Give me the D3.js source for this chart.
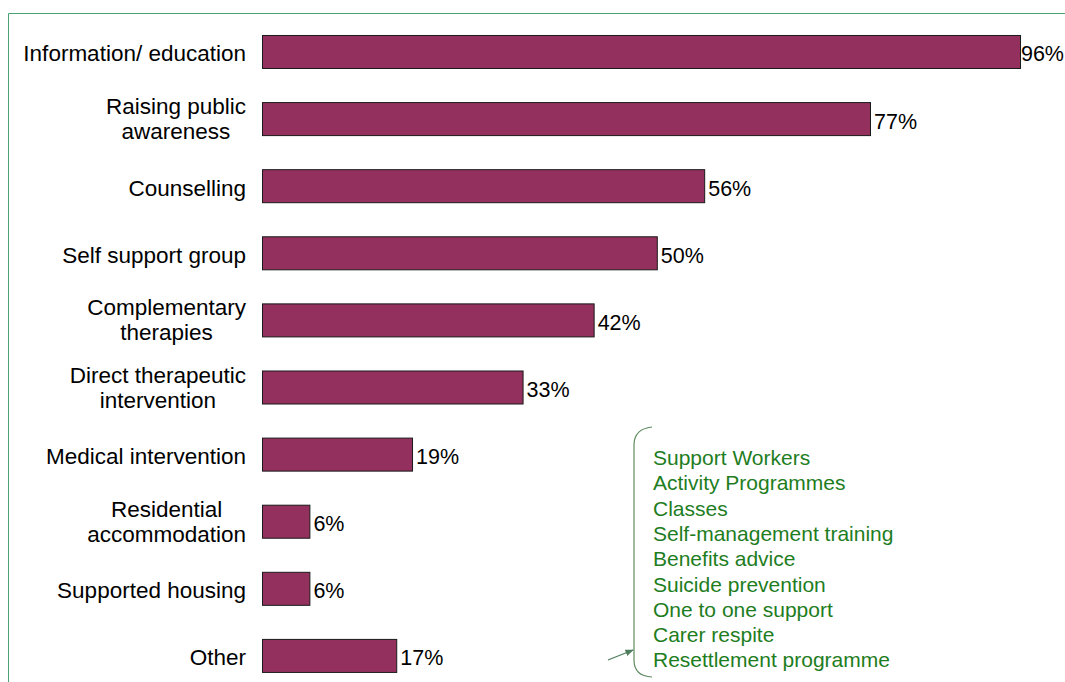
<!DOCTYPE html>
<html>
<head>
<meta charset="utf-8">
<script src="https://cdn.jsdelivr.net/npm/d3@7"></script>
<style>
  html, body { margin: 0; padding: 0; background: #fff; }
  svg { display: block; font-family: "Liberation Sans", Arial, sans-serif; }
</style>
</head>
<body>
<svg id="chart" width="1065" height="682"></svg>
<script>
// Services offered (share of organisations, %)
const categories = [
  ["Information/ education"],
  ["Raising public", "awareness"],
  ["Counselling"],
  ["Self support group"],
  ["Complementary", "therapies"],
  ["Direct therapeutic", "intervention"],
  ["Medical intervention"],
  ["Residential", "accommodation"],
  ["Supported housing"],
  ["Other"]
];
const values = [96, 77, 56, 50, 42, 33, 19, 6, 6, 17];
const otherServices = [
  "Support Workers",
  "Activity Programmes",
  "Classes",
  "Self-management training",
  "Benefits advice",
  "Suicide prevention",
  "One to one support",
  "Carer respite",
  "Resettlement programme"
];

const W = 1065;
const svg = d3.select("#chart");
const keys = categories.map(c => c.join(" "));

const x = d3.scaleLinear().domain([0, 100]).range([262, 262 + 789.6]);
const y = d3.scaleBand().domain(keys).range([18.2, 688.7])
  .paddingInner(0.508).paddingOuter(0.25);

// Frame lines
svg.append("path")
  .attr("d", "M8.5,682 L8.5,13.5 L1065,13.5")
  .attr("fill", "none")
  .attr("stroke", "#4aa375")
  .attr("stroke-width", 1);

// Bars
svg.append("g").selectAll("rect")
  .data(values)
  .join("rect")
  .attr("x", x(0) + 0.5)
  .attr("y", (d, i) => y(keys[i]) + 0.5)
  .attr("width", d => x(d) - x(0))
  .attr("height", y.bandwidth())
  .attr("fill", "#94305e")
  .attr("stroke", "#1a1a1a")
  .attr("stroke-width", 1);

// Value labels (kept inside the drawing area)
svg.append("g").selectAll("text")
  .data(values)
  .join("text")
  .attr("y", (d, i) => y(keys[i]) + y.bandwidth() / 2 + 10)
  .attr("font-size", 21.5)
  .attr("fill", "#000")
  .text(d => d + "%")
  .attr("x", function (d) {
    const w = this.getComputedTextLength();
    return Math.min(x(d) + 4, W - 1 - w);
  });

// Category labels (multi-line labels are centred as a block, right-aligned)
const labelRight = 246;
const lineGap = 25;
const lg = svg.append("g").attr("font-size", 22.5).attr("fill", "#000");
categories.forEach((lines, i) => {
  const cy = y(keys[i]) + y.bandwidth() / 2;
  const t = lg.append("text");
  if (lines.length === 1) {
    t.attr("x", labelRight).attr("y", cy + 10).attr("text-anchor", "end").text(lines[0]);
  } else {
    const widths = lines.map(s => {
      const n = lg.append("text").text(s);
      const w = n.node().getComputedTextLength();
      n.remove();
      return w;
    });
    const cx = labelRight - d3.max(widths) / 2;
    t.attr("text-anchor", "middle");
    lines.forEach((s, j) => {
      t.append("tspan")
        .attr("x", cx)
        .attr("y", cy + 8 - lineGap / 2 + j * lineGap)
        .text(s);
    });
  }
});

// Breakdown of "Other" with brace and pointer
const green = "#1e7d1e";
svg.append("g").attr("font-size", 21).attr("fill", green)
  .selectAll("text")
  .data(otherServices)
  .join("text")
  .attr("x", 653)
  .attr("y", (d, i) => 465 + i * 25.3)
  .text(d => d);

svg.append("path")
  .attr("d", "M652,427 Q634,429 634,445 L634,660 Q634,676 652,677")
  .attr("fill", "none")
  .attr("stroke", "#5f8a5f")
  .attr("stroke-width", 1.2);

svg.append("defs").append("marker")
  .attr("id", "arrowhead")
  .attr("viewBox", "0 0 10 10")
  .attr("refX", 9).attr("refY", 5)
  .attr("markerWidth", 7).attr("markerHeight", 7)
  .attr("orient", "auto")
  .append("path")
  .attr("d", "M0,1 L10,5 L0,9 Z")
  .attr("fill", "#4e7e5e");

svg.append("line")
  .attr("x1", 608).attr("y1", 660)
  .attr("x2", 633).attr("y2", 650)
  .attr("stroke", "#4e7e5e")
  .attr("stroke-width", 1.2)
  .attr("marker-end", "url(#arrowhead)");
</script>
</body>
</html>
